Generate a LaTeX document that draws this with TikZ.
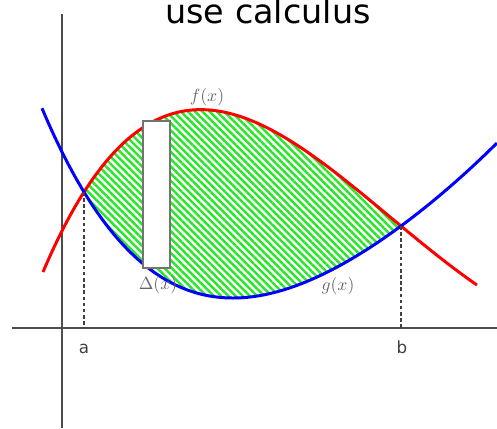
\documentclass[tikz,border=0pt]{standalone}
\usepackage{fontspec}
\newfontfamily\handfont{DejaVu Sans}
\usetikzlibrary{patterns.meta,positioning}
\definecolor{hatchgreen}{RGB}{40,230,40}

\begin{document}
\begin{tikzpicture}[
  x=2cm, y=2cm,
  declare function={
    fred(\x)  = 3.18 + 0.08549*(\x-1.92) - 0.5044*(\x-1.92)^2
                + 0.10518*(\x-1.92)^3 - 0.005035*(\x-1.92)^4;
    gblue(\x) = 1.30 + 0.3511*(\x-2.33)^2 - 0.0718*(\x-2.33)^3
                + 0.008736*(\x-2.33)^4;
  },
  axisline/.style = {line width=1.3pt, black!70},
  curve/.style    = {line width=1.7pt, smooth, samples=120},
  guide/.style    = {dashed, dash pattern=on 2pt off 1.5pt,
                     line width=0.8pt, black!75},
  fnlabel/.style  = {font=\normalsize, text=black!60, inner sep=1pt},
  ticklabel/.style= {font=\handfont\fontsize{9.5}{10}\selectfont,
                     text=black!75, anchor=base, inner sep=0pt},
  stripbox/.style = {draw=black!55, fill=white, line width=0.9pt,
                     minimum width=0.54cm, minimum height=2.94cm,
                     inner sep=0pt},
]
\useasboundingbox (0,0) rectangle (4.97,4.28);

% axes
\coordinate (xleft)  at (0.12,1.00);
\coordinate (xright) at (4.97,1.00);
\coordinate (ytop)   at (0.62,4.14);
\coordinate (ybot)   at (0.62,0);
\draw[axisline] (xleft) -- (xright);
\draw[axisline] (ytop) -- (ybot);

% area between the curves
\fill[pattern={Lines[angle=-45,distance=2.9pt,line width=1.4pt]},
      pattern color=hatchgreen]
  plot[domain=0.84:4.01, smooth, samples=80] (\x,{fred(\x)})
  -- plot[domain=4.01:0.84, smooth, samples=80] (\x,{gblue(\x)}) -- cycle;

% the two curves
\draw[curve, red]  plot[domain=0.43:4.77] (\x,{fred(\x)});
\draw[curve, blue] plot[domain=0.42:4.97] (\x,{gblue(\x)});

% limits of integration
\coordinate (ptA)   at (0.84,{gblue(0.84)});
\coordinate (footA) at (0.84,1.00);
\coordinate (ptB)   at (4.01,{gblue(4.01)});
\coordinate (footB) at (4.01,1.00);
\draw[guide] (ptA) -- (footA);
\draw[guide] (ptB) -- (footB);

% thin strip
\node[stripbox] (strip) at (1.565,2.335) {};

% labels
\node[font=\handfont\fontsize{19}{20}\selectfont, anchor=base]
     (title) at (2.68,4.05) {use calculus};
\node[ticklabel] (lblA) at (0.84,0.75) {a};
\node[ticklabel] (lblB) at (4.02,0.75) {b};
\node[fnlabel] (lblF) at (2.07,3.31) {$f(x)$};
\node[fnlabel] (lblD) at (1.58,1.43) {$\Delta(x)$};
\node[fnlabel] (lblG) at (3.38,1.42) {$g(x)$};
\end{tikzpicture}
\end{document}
